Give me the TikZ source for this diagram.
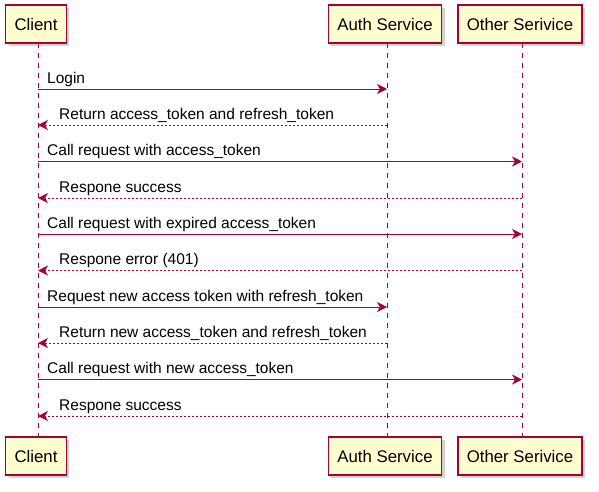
\documentclass[tikz,border=0pt]{standalone}
\usepackage{fontspec}
\setmainfont{Liberation Sans}
\usepackage{tikz}
\usetikzlibrary{positioning,arrows.meta,shadows}

\definecolor{umlred}{HTML}{A80036}
\definecolor{umlfill}{HTML}{FEFECE}

\begin{document}
\begin{tikzpicture}
    [x=1pt,y=1pt,
     actor/.style={rectangle,draw=umlred,fill=umlfill,line width=1.5pt,
       minimum height=38pt,inner xsep=9pt,font=\fontsize{16.8}{19}\selectfont,
       drop shadow={shadow xshift=3pt,shadow yshift=-3pt,opacity=0.35}},
     life/.style={draw=umlred,line width=0.9pt,dash pattern=on 5pt off 5pt},
     call/.style={draw=umlred,line width=0.9pt,-{Stealth[length=10pt,width=10pt,inset=3pt]}},
     reply/.style={call,dash pattern=on 2pt off 2pt},
     msg/.style={anchor=base west,font=\fontsize{15.5}{18}\selectfont,inner sep=0pt}]

    \useasboundingbox (0,0) rectangle (599,-491);

    % lifelines and rows
    \coordinate (lc) at (38,0);
    \coordinate (la) at (387,0);
    \coordinate (lo) at (522,0);
    \coordinate (r1) at (0,-89);
    \coordinate (r2) at (0,-125);
    \coordinate (r3) at (0,-161.5);
    \coordinate (r4) at (0,-198);
    \coordinate (r5) at (0,-234);
    \coordinate (r6) at (0,-270.5);
    \coordinate (r7) at (0,-307);
    \coordinate (r8) at (0,-343);
    \coordinate (r9) at (0,-379.5);
    \coordinate (r10) at (0,-416);

    \draw[life] (38,-43) -- (38,-437);
    \draw[life] (387,-43) -- (387,-437);
    \draw[life] (522,-43) -- (522,-437);

    % participants
    \node[actor] (client) at (36,-24) {Client};
    \node[actor] (auth) at (385,-24) {Auth Service};
    \node[actor] (other) at (520,-24) {Other Serivice};
    \node[actor] (clientb) at (36,-456) {Client};
    \node[actor] (authb) at (385,-456) {Auth Service};
    \node[actor] (otherb) at (520,-456) {Other Serivice};

    % messages
    \draw[call] (lc |- r1) -- (la |- r1);
    \node[msg] (m1) at ([shift={(9,6)}]lc |- r1) {Login};
    \draw[reply] (la |- r2) -- (lc |- r2);
    \node[msg] (m2) at ([shift={(21,6)}]lc |- r2) {Return access\_token and refresh\_token};
    \draw[call] (lc |- r3) -- (lo |- r3);
    \node[msg] (m3) at ([shift={(9,6)}]lc |- r3) {Call request with access\_token};
    \draw[reply] (lo |- r4) -- (lc |- r4);
    \node[msg] (m4) at ([shift={(21,6)}]lc |- r4) {Respone success};
    \draw[call] (lc |- r5) -- (lo |- r5);
    \node[msg] (m5) at ([shift={(9,6)}]lc |- r5) {Call request with expired access\_token};
    \draw[reply] (lo |- r6) -- (lc |- r6);
    \node[msg] (m6) at ([shift={(21,6)}]lc |- r6) {Respone error (401)};
    \draw[call] (lc |- r7) -- (la |- r7);
    \node[msg] (m7) at ([shift={(9,6)}]lc |- r7) {Request new access token with refresh\_token};
    \draw[reply] (la |- r8) -- (lc |- r8);
    \node[msg] (m8) at ([shift={(21,6)}]lc |- r8) {Return new access\_token and refresh\_token};
    \draw[call] (lc |- r9) -- (lo |- r9);
    \node[msg] (m9) at ([shift={(9,6)}]lc |- r9) {Call request with new access\_token};
    \draw[reply] (lo |- r10) -- (lc |- r10);
    \node[msg] (m10) at ([shift={(21,6)}]lc |- r10) {Respone success};
  \end{tikzpicture}
\end{document}
